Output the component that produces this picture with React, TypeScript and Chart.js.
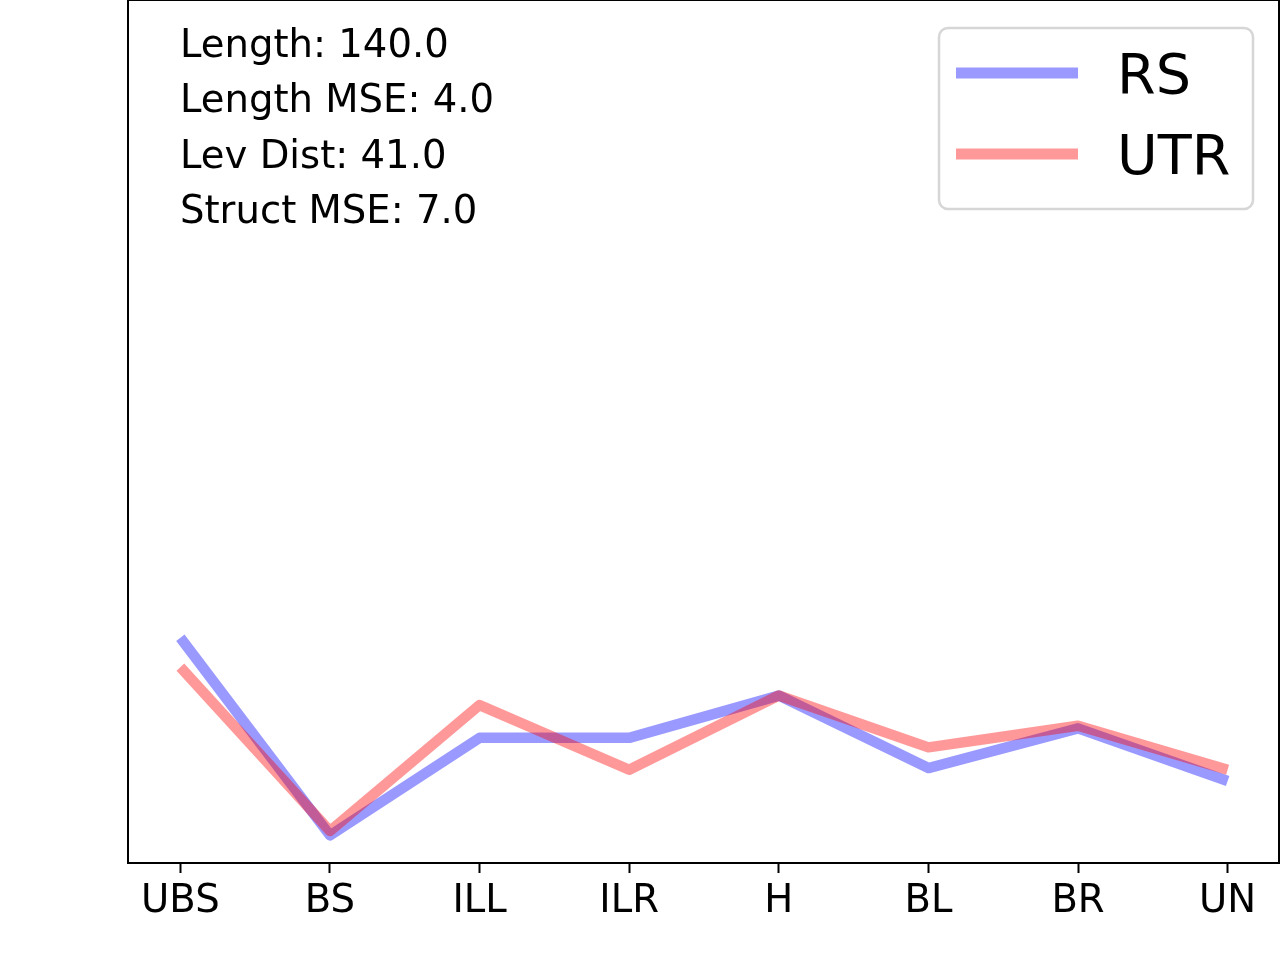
import { useEffect, useRef } from 'react'

import { Chart, type ChartConfiguration, type Plugin, registerables } from 'chart.js'

Chart.register(...registerables)

const CATEGORIES = ['UBS', 'BS', 'ILL', 'ILR', 'H', 'BL', 'BR', 'UN']
const RS_VALUES = [26.1, 3.2, 14.5, 14.5, 19.4, 11.0, 15.6, 9.5]
const UTR_VALUES = [22.7, 3.7, 18.3, 10.8, 19.4, 13.4, 15.9, 10.8]
const STATS = ['Length: 140.0', 'Length MSE: 4.0', 'Lev Dist: 41.0', 'Struct MSE: 7.0']
const SERIES = [
  { label: 'RS', color: 'rgba(0, 0, 255, 0.4)' },
  { label: 'UTR', color: 'rgba(255, 0, 0, 0.4)' },
]

const FONT = 'DejaVu Sans'

// spines, stats text and a matplotlib-style legend box
const decorPlugin: Plugin = {
  id: 'decor',
  afterDraw: (chart) => {
    const { ctx, chartArea } = chart
    ctx.save()
    ctx.strokeStyle = '#000'
    ctx.lineWidth = 2
    ctx.strokeRect(chartArea.left, chartArea.top, chartArea.right - 1 - chartArea.left, chartArea.bottom - chartArea.top)

    ctx.fillStyle = '#000'
    ctx.font = `38.6px "${FONT}"`
    ctx.textBaseline = 'alphabetic'
    ctx.textAlign = 'left'
    STATS.forEach((s, i) => ctx.fillText(s, 180, 57 + i * 55.3))

    // legend frame
    const bx = 939, by = 28, bw = 314, bh = 181, r = 9
    ctx.beginPath()
    ctx.roundRect(bx, by, bw, bh, r)
    ctx.fillStyle = 'rgba(255,255,255,0.8)'
    ctx.fill()
    ctx.strokeStyle = '#d6d6d6'
    ctx.lineWidth = 2.5
    ctx.stroke()

    SERIES.forEach((s, i) => {
      const y = 73 + i * 81
      ctx.beginPath()
      ctx.moveTo(956, y)
      ctx.lineTo(1078, y)
      ctx.strokeStyle = s.color
      ctx.lineWidth = 11
      ctx.lineCap = 'butt'
      ctx.stroke()
      ctx.fillStyle = '#000'
      ctx.font = `55.6px "${FONT}"`
      ctx.fillText(s.label, 1117, y + 20)
    })
    ctx.restore()
  },
}

export default function App() {
  const chartRef = useRef<HTMLCanvasElement>(null)
  const chartInstance = useRef<Chart | null>(null)

  useEffect(() => {
    document.body.style.margin = '0'
    if (!chartRef.current) return
    if (chartInstance.current) chartInstance.current.destroy()
    const ctx = chartRef.current.getContext('2d')
    if (!ctx) return

    const config: ChartConfiguration = {
      type: 'line',
      data: {
        datasets: [
          {
            label: SERIES[0].label,
            data: CATEGORIES.map((_, i) => ({ x: i, y: RS_VALUES[i] })),
            borderColor: SERIES[0].color,
            order: 2,
          },
          {
            label: SERIES[1].label,
            data: CATEGORIES.map((_, i) => ({ x: i, y: UTR_VALUES[i] })),
            borderColor: SERIES[1].color,
            order: 1,
          },
        ],
      },
      options: {
        animation: false,
        responsive: true,
        maintainAspectRatio: false,
        devicePixelRatio: 1,
        layout: { padding: { left: 128, right: 0, top: 0, bottom: 0 } },
        elements: {
          line: { borderWidth: 10.5, borderCapStyle: 'butt', borderJoinStyle: 'round', tension: 0, fill: false },
          point: { radius: 0, hoverRadius: 0 },
        },
        scales: {
          x: {
            type: 'linear',
            min: -0.35,
            max: 7.35,
            afterBuildTicks: (axis) => {
              axis.ticks = CATEGORIES.map((_, i) => ({ value: i }))
            },
            afterFit: (axis) => {
              axis.height = 97
            },
            grid: {
              drawOnChartArea: false,
              drawTicks: true,
              tickLength: 10,
              tickWidth: 2,
              tickColor: '#000',
            },
            border: { display: true, color: '#000', width: 2 },
            ticks: {
              color: '#000',
              font: { family: FONT, size: 38.6 },
              padding: 6,
              maxRotation: 0,
              autoSkip: false,
              callback: (value) => CATEGORIES[Number(value)] ?? '',
            },
          },
          y: {
            display: false,
            min: 0,
            max: 100,
          },
        },
        plugins: {
          legend: { display: false },
          tooltip: { enabled: false },
        },
      },
      plugins: [decorPlugin],
    }

    chartInstance.current = new Chart(ctx, config)

    return () => {
      if (chartInstance.current) {
        chartInstance.current.destroy()
        chartInstance.current = null
      }
    }
  }, [])

  return (
    <div style={{ position: 'relative', width: 1280, height: 960, background: '#fff' }}>
      <canvas ref={chartRef} />
    </div>
  )
}
